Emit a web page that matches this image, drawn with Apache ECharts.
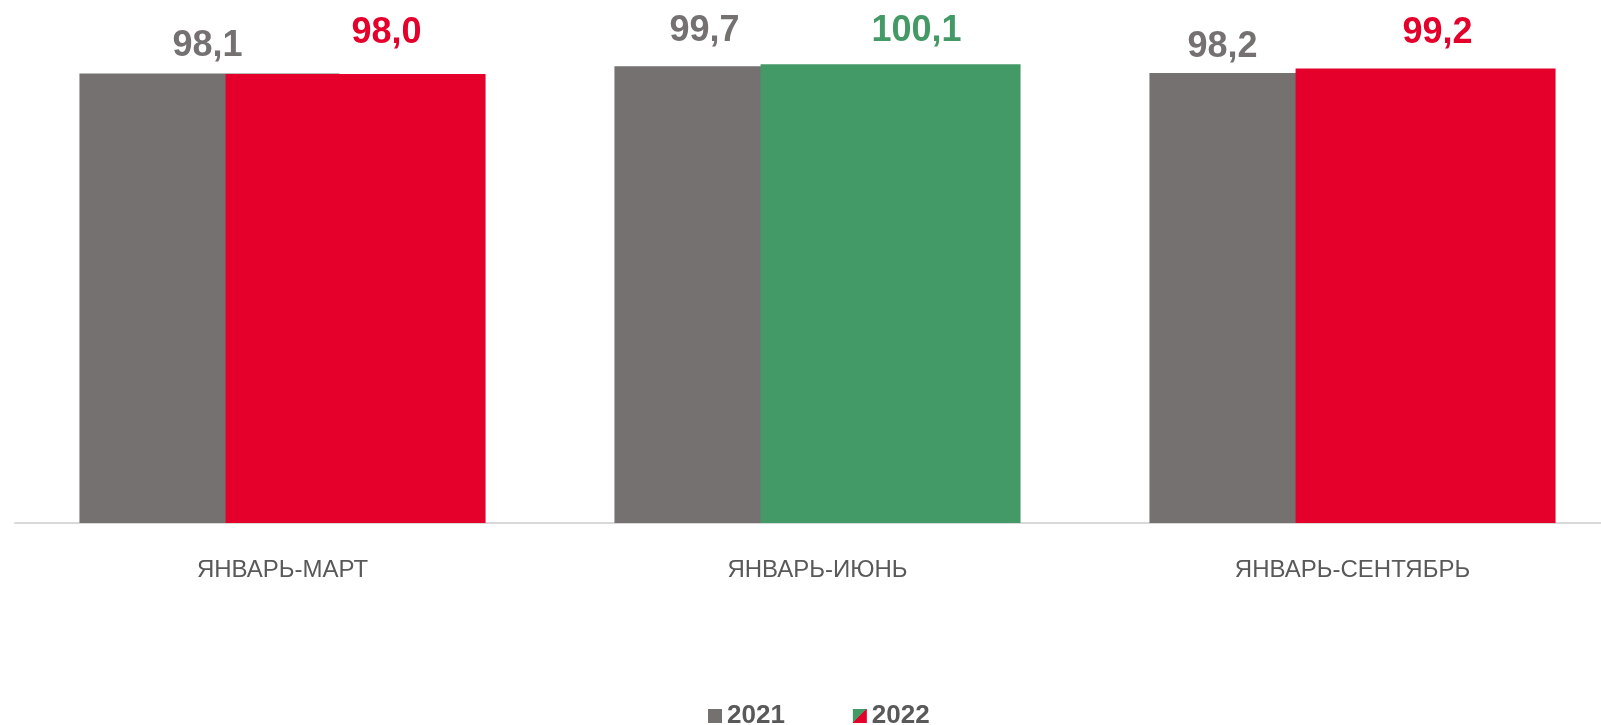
<!DOCTYPE html>
<html>
<head>
<meta charset="utf-8">
<script src="https://cdn.jsdelivr.net/npm/echarts@6/dist/echarts.min.js"></script>
<style>
html,body{margin:0;padding:0;background:#fff;overflow:hidden;}
#c{width:1620px;height:725px;}
</style>
</head>
<body>
<div id="c"></div>
<script>
const categories = ['ЯНВАРЬ-МАРТ', 'ЯНВАРЬ-ИЮНЬ', 'ЯНВАРЬ-СЕНТЯБРЬ'];
const values2021 = [98.1, 99.7, 98.2];
const values2022 = [98.0, 100.1, 99.2];
const seriesNames = ['2021', '2022'];

const GRAY = '#767171', RED = '#E4002B', GREEN = '#449A67';
const fmt = v => v.toFixed(1).replace('.', ',');
const color2022 = v => v >= 100 ? GREEN : RED;

// label nudges (styling only)
const off2021 = [[-2, -9], [-40, -17], [-57, -8]];
const off2022 = [[31, -23], [26, -15], [12, -17]];

const chart = echarts.init(document.getElementById('c'));
chart.setOption({
  animation: false,
  textStyle: { fontFamily: 'Liberation Sans, Arial, sans-serif' },
  grid: { left: 15, right: 0, top: 19, bottom: 202, containLabel: false },
  legend: {
    top: 698, left: 703,
    itemWidth: 14, itemHeight: 14, itemGap: 68,
    icon: 'rect',
    textStyle: { fontSize: 26, fontWeight: 'bold', color: '#595959', fontFamily: 'Liberation Sans, Arial, sans-serif' },
    data: [
      { name: seriesNames[0], itemStyle: { color: GRAY } },
      { name: seriesNames[1], itemStyle: { color: { type: 'linear', x: 0, y: 0, x2: 1, y2: 1,
        colorStops: [{ offset: 0, color: GREEN }, { offset: 0.5, color: GREEN }, { offset: 0.5, color: RED }, { offset: 1, color: RED }] } } }
    ]
  },
  xAxis: {
    type: 'category', data: categories,
    axisLine: { lineStyle: { color: '#D9D9D9', width: 2 } },
    axisTick: { show: false },
    axisLabel: { color: '#595959', fontSize: 24, margin: 35 }
  },
  yAxis: { type: 'value', min: 0, max: 110, show: false, splitLine: { show: false } },
  series: [
    {
      name: seriesNames[0], type: 'bar', barWidth: 260, barGap: '-43.8%',
      itemStyle: { color: GRAY },
      data: values2021.map((v, i) => ({
        value: v,
        label: { show: true, position: 'top', distance: 0, offset: off2021[i],
          formatter: () => fmt(v), color: GRAY, fontSize: 36, fontWeight: 'bold' }
      }))
    },
    {
      name: seriesNames[1], type: 'bar', barWidth: 260,
      itemStyle: { color: RED },
      data: values2022.map((v, i) => ({
        value: v,
        itemStyle: { color: color2022(v) },
        label: { show: true, position: 'top', distance: 0, offset: off2022[i],
          formatter: () => fmt(v), color: color2022(v), fontSize: 36, fontWeight: 'bold' }
      }))
    }
  ]
});
</script>
</body>
</html>
